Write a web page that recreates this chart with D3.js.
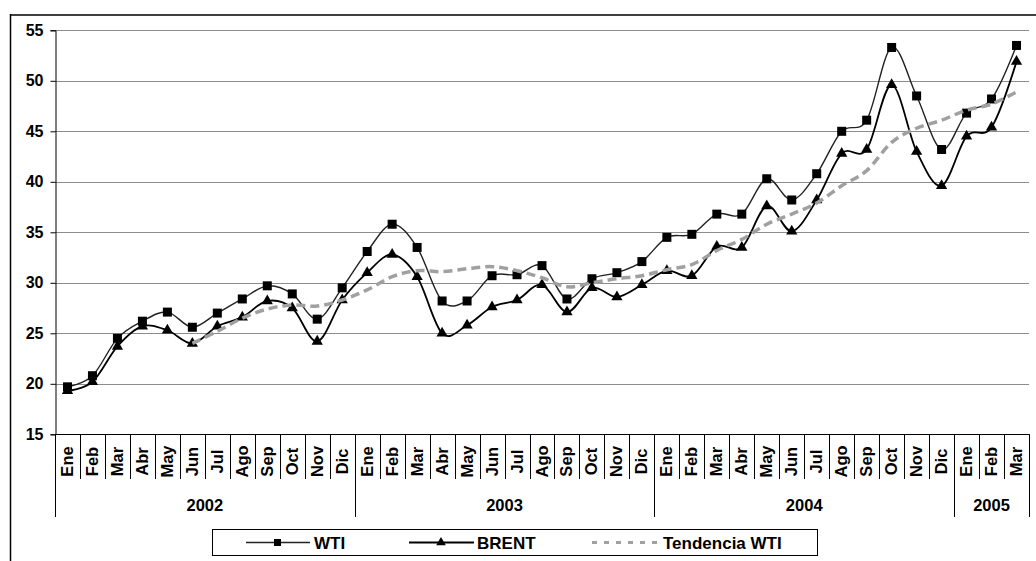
<!DOCTYPE html>
<head>
  <meta charset="utf-8">
  <script src="https://d3js.org/d3.v7.min.js"></script>
  <style type="text/css">
    body { margin: 0; background: #fff; }
    text { font-family: "Liberation Sans", Arial, sans-serif; font-weight: bold; fill: #000; }
  </style>
</head>

<body>
  <script type="text/javascript">
    // months Ene 2002 .. Mar 2005
    var months = ["Ene","Feb","Mar","Abr","May","Jun","Jul","Ago","Sep","Oct","Nov","Dic",
                  "Ene","Feb","Mar","Abr","May","Jun","Jul","Ago","Sep","Oct","Nov","Dic",
                  "Ene","Feb","Mar","Abr","May","Jun","Jul","Ago","Sep","Oct","Nov","Dic",
                  "Ene","Feb","Mar"];
    var years = ["2002", "2003", "2004", "2005"];
    var yearStart = [0, 12, 24, 36];

    var wti = [19.7, 20.8, 24.5, 26.2, 27.1, 25.6, 27.0, 28.4, 29.7, 28.9, 26.4, 29.5,
               33.1, 35.8, 33.5, 28.2, 28.2, 30.7, 30.8, 31.7, 28.4, 30.4, 31.0, 32.1,
               34.5, 34.8, 36.8, 36.8, 40.3, 38.2, 40.8, 45.0, 46.1, 53.3, 48.5, 43.2,
               46.8, 48.2, 53.5];
    var brent = [19.3, 20.2, 23.7, 25.7, 25.3, 24.0, 25.7, 26.6, 28.2, 27.5, 24.2, 28.3,
                 31.0, 32.8, 30.6, 25.0, 25.8, 27.6, 28.3, 29.8, 27.1, 29.5, 28.6, 29.8,
                 31.2, 30.7, 33.6, 33.5, 37.6, 35.1, 38.2, 42.8, 43.2, 49.6, 43.0, 39.6,
                 44.5, 45.4, 51.9];
    // tendencia WTI, starts at Jun 2002
    var tendencia = [null, null, null, null, null, 24.0, 25.2, 26.5, 27.4, 27.8, 27.7, 28.3,
                     29.3, 30.6, 31.2, 31.1, 31.4, 31.6, 31.2, 30.5, 29.6, 30.0, 30.4, 30.7,
                     31.3, 31.8, 33.2, 34.3, 35.8, 36.8, 37.9, 39.6, 41.1, 43.9, 45.3, 46.1,
                     47.1, 47.7, 48.9];
    var yTicks = [15, 20, 25, 30, 35, 40, 45, 50, 55];

    var W = 1036, H = 561;
    var plotL = 55, plotR = 1029, plotT = 30.3, plotB = 434.3;

    var svg = d3.select("body").append("svg")
      .attr("width", W).attr("height", H);

    svg.append("rect").attr("width", W).attr("height", H).attr("fill", "#fff");

    // outer frame (only top/left visible)
    svg.append("line").attr("x1", 10).attr("x2", W).attr("y1", 15).attr("y2", 15)
      .attr("stroke", "#404040").attr("stroke-width", 2);
    svg.append("line").attr("x1", 10.5).attr("x2", 10.5).attr("y1", 14).attr("y2", H)
      .attr("stroke", "#000").attr("stroke-width", 1.5);

    var idx = d3.range(months.length);
    var x = d3.scaleBand().domain(idx).range([plotL, plotR]);
    var y = d3.scaleLinear().domain([15, 55]).range([plotB, plotT]);
    var cx = function(i) { return x(i) + x.bandwidth() / 2; };

    // gridlines
    svg.append("g").selectAll("line")
      .data(yTicks.filter(function(d) { return d > 15; }))
      .enter().append("line")
      .attr("x1", plotL).attr("x2", plotR)
      .attr("y1", function(d) { return Math.round(y(d)) + 0.5; })
      .attr("y2", function(d) { return Math.round(y(d)) + 0.5; })
      .attr("stroke", "#8c8c8c").attr("stroke-width", 1);

    // y axis
    var yAxis = d3.axisLeft(y).tickValues(yTicks).tickSize(5).tickPadding(7);
    var gy = svg.append("g").attr("transform", "translate(" + (plotL + 0.5) + ",0)").call(yAxis);
    gy.select(".domain").attr("stroke", "#000");
    gy.selectAll(".tick line").attr("stroke", "#000");
    gy.selectAll("text").attr("font-size", 16).attr("font-family", "Liberation Sans, Arial, sans-serif")
      .attr("font-weight", "bold").attr("fill", "#000");

    // x axis line
    svg.append("line").attr("x1", plotL).attr("x2", plotR)
      .attr("y1", Math.round(plotB) + 0.5).attr("y2", Math.round(plotB) + 0.5).attr("stroke", "#000");

    // month separators
    var bounds = idx.map(function(i) { return x(i); }).concat([plotR]);
    svg.append("g").selectAll("line").data(bounds).enter().append("line")
      .attr("x1", function(d) { return Math.round(d) + 0.5; })
      .attr("x2", function(d) { return Math.round(d) + 0.5; })
      .attr("y1", plotB).attr("y2", 479).attr("stroke", "#000");

    // month labels
    svg.append("g").selectAll("text").data(idx).enter().append("text")
      .attr("transform", function(i) { return "translate(" + (cx(i) + 5.5) + ",461.5) rotate(-90)"; })
      .attr("text-anchor", "middle").attr("font-size", 16.5)
      .text(function(i) { return months[i]; });

    // year separators & labels
    var yearBounds = yearStart.map(function(i) { return x(i); }).concat([plotR]);
    svg.append("g").selectAll("line").data(yearBounds).enter().append("line")
      .attr("x1", function(d) { return Math.round(d) + 0.5; })
      .attr("x2", function(d) { return Math.round(d) + 0.5; })
      .attr("y1", plotB).attr("y2", 517).attr("stroke", "#000");
    svg.append("g").selectAll("text").data(years).enter().append("text")
      .attr("x", function(d, k) { return (yearBounds[k] + yearBounds[k + 1]) / 2; })
      .attr("y", 511).attr("text-anchor", "middle").attr("font-size", 16.5)
      .text(function(d) { return d; });

    var curve = d3.curveCardinal.tension(0);
    var line = d3.line()
      .x(function(d) { return cx(d.i); })
      .y(function(d) { return y(d.v); })
      .curve(curve);

    function pts(arr) {
      return arr.map(function(v, i) { return { i: i, v: v }; })
        .filter(function(d) { return d.v != null; });
    }

    // WTI
    svg.append("path").datum(pts(wti)).attr("d", line)
      .attr("fill", "none").attr("stroke", "#222").attr("stroke-width", 1.4);
    svg.append("g").selectAll("rect").data(pts(wti)).enter().append("rect")
      .attr("x", function(d) { return cx(d.i) - 4.5; })
      .attr("y", function(d) { return y(d.v) - 4.5; })
      .attr("width", 9).attr("height", 9).attr("fill", "#000");

    // BRENT
    var tri = d3.symbol().type(d3.symbolTriangle).size(55);
    svg.append("path").datum(pts(brent)).attr("d", line)
      .attr("fill", "none").attr("stroke", "#000").attr("stroke-width", 1.8);
    svg.append("g").selectAll("path").data(pts(brent)).enter().append("path")
      .attr("d", tri)
      .attr("transform", function(d) { return "translate(" + cx(d.i) + "," + y(d.v) + ")"; })
      .attr("fill", "#000");

    // Tendencia WTI
    svg.append("path").datum(pts(tendencia)).attr("d", line)
      .attr("fill", "none").attr("stroke", "#a0a0a0").attr("stroke-width", 3.5)
      .attr("stroke-dasharray", "9,5");

    // legend
    var lg = svg.append("g");
    lg.append("rect").attr("x", 212.5).attr("y", 529.5).attr("width", 605).attr("height", 26)
      .attr("fill", "#fff").attr("stroke", "#000");
    var ly = 542.5;
    lg.append("line").attr("x1", 246).attr("x2", 310).attr("y1", ly).attr("y2", ly)
      .attr("stroke", "#222").attr("stroke-width", 1.4);
    lg.append("rect").attr("x", 274).attr("y", ly - 3.5).attr("width", 7).attr("height", 7).attr("fill", "#000");
    lg.append("text").attr("x", 314).attr("y", ly + 6).attr("font-size", 17).text("WTI");

    lg.append("line").attr("x1", 409).attr("x2", 474).attr("y1", ly).attr("y2", ly)
      .attr("stroke", "#000").attr("stroke-width", 1.8);
    lg.append("path").attr("d", d3.symbol().type(d3.symbolTriangle).size(40))
      .attr("transform", "translate(441," + ly + ")").attr("fill", "#000");
    lg.append("text").attr("x", 477).attr("y", ly + 6).attr("font-size", 17).text("BRENT");

    lg.append("line").attr("x1", 592).attr("x2", 660).attr("y1", ly).attr("y2", ly)
      .attr("stroke", "#a0a0a0").attr("stroke-width", 3).attr("stroke-dasharray", "5,7");
    lg.append("text").attr("x", 663).attr("y", ly + 6).attr("font-size", 17).text("Tendencia WTI");
  </script>
</body>
